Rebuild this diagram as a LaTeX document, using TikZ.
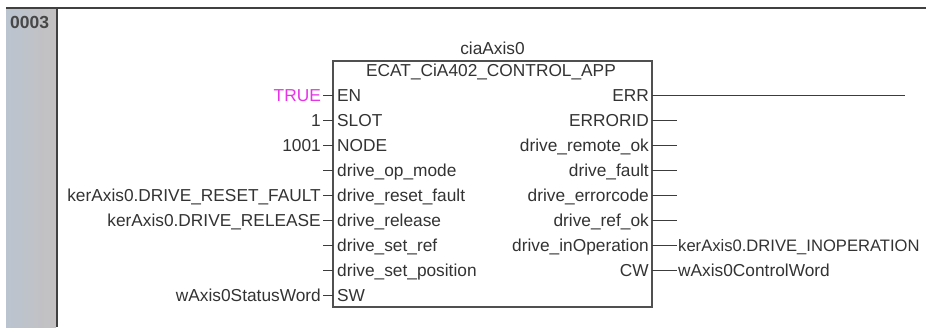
\documentclass[tikz,border=0pt]{standalone}
\usepackage{fontspec}
\setmainfont{Liberation Sans}
\usetikzlibrary{positioning,calc}
\definecolor{textgray}{HTML}{333333}
\definecolor{linegray}{HTML}{3C3C3C}
\definecolor{boxgray}{HTML}{505050}
\definecolor{colblue}{HTML}{BAC4D0}
\definecolor{colgray}{HTML}{C4C0C0}
\definecolor{truepink}{HTML}{E832E8}
\tikzset{pinname/.style={inner sep=0pt, text=textgray, font=\fontsize{17.3}{20}\selectfont},
inpin/.style={pinname, anchor=base west},
outpin/.style={pinname, anchor=base east},
invar/.style={pinname, anchor=base east},
outvar/.style={pinname, anchor=base west},
wire/.style={draw=linegray, line width=1.2pt},
fbox/.style={rectangle, draw=boxgray, line width=1.5pt, inner sep=0pt,
minimum width=319pt, minimum height=246pt},
rule/.style={draw=black!75, line width=2pt}}
% input pin: id, row y, pin name, value
\newcommand{\fbin}[4]{
\node (in#1) [inpin] at (337,#2+6) {#3};
\node (val#1) [invar] at (321,#2+6) {#4};
\coordinate (instub#1) at (323,#2);
\coordinate (inpt#1) at (333,#2);
\draw [wire] (instub#1) -- (inpt#1);
}
% output pin: id, row y, pin name, wire length
\newcommand{\fbout}[4]{
\node (out#1) [outpin] at (649,#2+6) {#3};
\coordinate (outpt#1) at (652,#2);
\coordinate (outstub#1) at (652+#4,#2);
\draw [wire] (outpt#1) -- (outstub#1);
}
\begin{document}
\begin{tikzpicture}[x=1pt,y=-1pt]
  \clip (0,0) rectangle (926,327);
  \fill [white] (0,0) rectangle (926,327);
  % network number column
  \shade [left color=colblue, right color=colgray] (6,9) rectangle (56,327);
  \draw [rule] (6,8) -- (926,8);
  \draw [rule] (57,8) -- (57,327);
  \node (netno) [anchor=base west, inner sep=0pt, text=black!72,
    font=\fontsize{17.5}{20}\selectfont\bfseries] at (10,28) {0003};

  % function block
  \node (fb) [fbox] at (492.5,184) {};
  \node (inst) [pinname, anchor=base] at (492.5,54) {ciaAxis0};
  \node (fbtype) [pinname, anchor=base] at (491,76) {ECAT\_CiA402\_CONTROL\_APP};

  \fbin{en}{95.5}{EN}{\textcolor{truepink}{TRUE}}
  \fbin{slot}{120.5}{SLOT}{1}
  \fbin{node}{145.5}{NODE}{1001}
  \fbin{opmode}{170.5}{drive\_op\_mode}{}
  \fbin{reset}{195.5}{drive\_reset\_fault}{kerAxis0.DRIVE\_RESET\_FAULT}
  \fbin{release}{220.5}{drive\_release}{kerAxis0.DRIVE\_RELEASE}
  \fbin{setref}{245.5}{drive\_set\_ref}{}
  \fbin{setpos}{270.5}{drive\_set\_position}{}
  \fbin{sw}{295.5}{SW}{wAxis0StatusWord}

  \fbout{err}{95.5}{ERR}{253}
  \fbout{errid}{120.5}{ERRORID}{25}
  \fbout{remote}{145.5}{drive\_remote\_ok}{25}
  \fbout{fault}{170.5}{drive\_fault}{25}
  \fbout{errcode}{195.5}{drive\_errorcode}{25}
  \fbout{refok}{220.5}{drive\_ref\_ok}{25}
  \fbout{inop}{245.5}{drive\_inOperation}{25}
  \fbout{cw}{270.5}{CW}{25}

  \node (inopvar) [outvar, font=\fontsize{16.6}{20}\selectfont]
    at ($(outstubinop)+(1,6)$) {kerAxis0.DRIVE\_INOPERATION};
  \node (cwvar) [outvar] at ($(outstubcw)+(1,6)$) {wAxis0ControlWord};
\end{tikzpicture}
\end{document}
